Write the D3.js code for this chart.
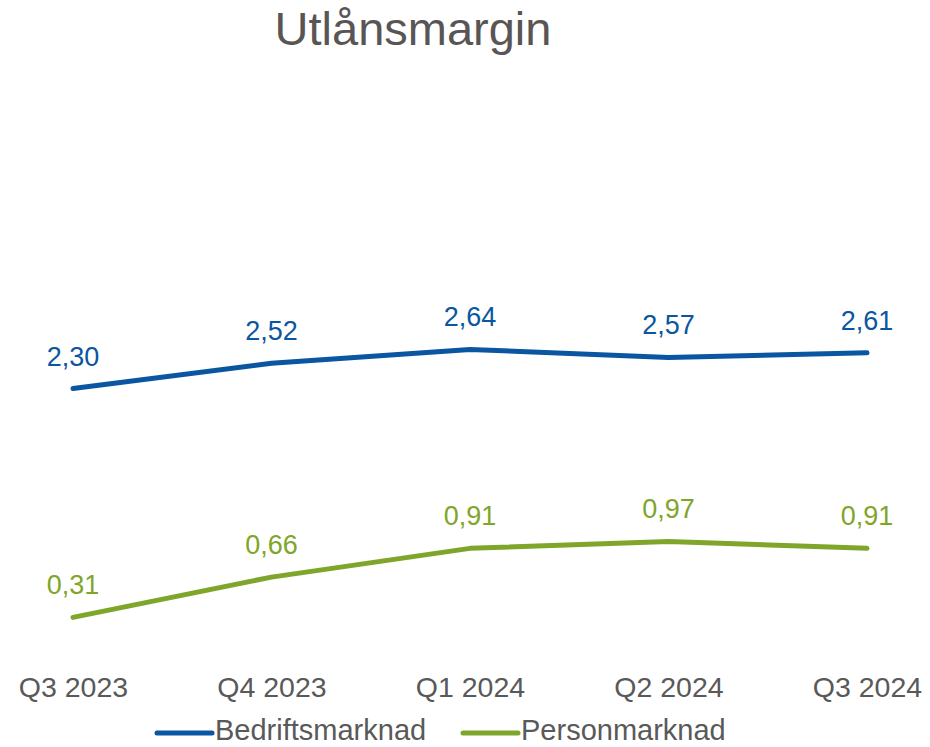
<!DOCTYPE html>
<html>
<head>
<meta charset="utf-8">
<script src="https://cdn.jsdelivr.net/npm/d3@7"></script>
<style>
  body { margin: 0; background: #fff; }
  text { font-family: "Liberation Sans", Arial, sans-serif; }
</style>
</head>
<body>
<div class="canvas"></div>
<script>
// data
const categories = ["Q3 2023", "Q4 2023", "Q1 2024", "Q2 2024", "Q3 2024"];
const bedrift = [2.30, 2.52, 2.64, 2.57, 2.61];
const person = [0.31, 0.66, 0.91, 0.97, 0.91];
const seriesNames = ["Bedriftsmarknad", "Personmarknad"];
const seriesColors = ["#0a56a0", "#7fa52a"];

const dims = { width: 930, height: 747 };

const svg = d3
  .select(".canvas")
  .append("svg")
  .attr("width", dims.width)
  .attr("height", dims.height);

// title
svg
  .append("text")
  .attr("x", 413)
  .attr("y", 45)
  .attr("text-anchor", "middle")
  .attr("font-size", 47)
  .attr("fill", "#5a5555")
  .text("Utlånsmargin");

// scales
const x = d3.scalePoint().domain(categories).range([73, 867]);
const y = d3.scaleLinear().domain([0, 4]).range([653, 193]);

// x axis (labels only)
const xAxis = svg
  .append("g")
  .attr("transform", "translate(0, 653)")
  .call(d3.axisBottom(x).tickSize(0).tickPadding(0));
xAxis.select(".domain").remove();
xAxis
  .selectAll("text")
  .attr("dy", null)
  .attr("y", 44)
  .attr("font-size", 28.5)
  .attr("font-family", "'Liberation Sans', Arial, sans-serif")
  .attr("fill", "#595959");

const line = d3
  .line()
  .x((d, i) => x(categories[i]))
  .y(d => y(d));

const series = [bedrift, person];

series.forEach((vals, s) => {
  svg
    .append("path")
    .datum(vals)
    .attr("d", line)
    .attr("fill", "none")
    .attr("stroke", seriesColors[s])
    .attr("stroke-width", 5)
    .attr("stroke-linecap", "round")
    .attr("stroke-linejoin", "round");

  svg
    .selectAll(".lbl" + s)
    .data(vals)
    .enter()
    .append("text")
    .attr("x", (d, i) => x(categories[i]))
    .attr("y", d => y(d) - 23)
    .attr("text-anchor", "middle")
    .attr("font-size", 27)
    .attr("fill", seriesColors[s])
    .text(d => d.toFixed(2).replace(".", ","));
});

// legend
const legendX = [157, 463];
seriesNames.forEach((name, s) => {
  const g = svg.append("g").attr("transform", `translate(${legendX[s]}, 733)`);
  g.append("line")
    .attr("x1", 0)
    .attr("x2", 55)
    .attr("stroke", seriesColors[s])
    .attr("stroke-width", 5)
    .attr("stroke-linecap", "round");
  g.append("text")
    .attr("x", 58)
    .attr("y", 7)
    .attr("font-size", 29)
    .attr("fill", "#595959")
    .text(name);
});
</script>
</body>
</html>
